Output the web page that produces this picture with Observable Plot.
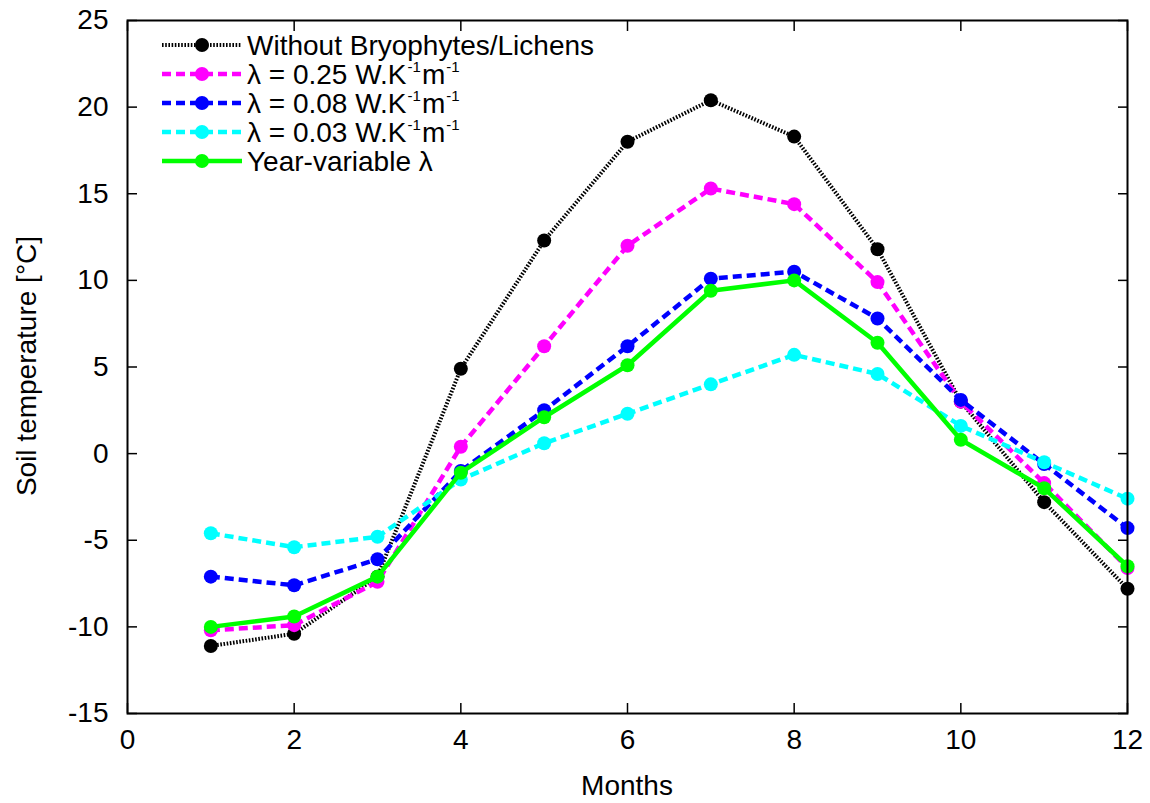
<!DOCTYPE html>
<html><head><meta charset="utf-8">
<script src="https://cdn.jsdelivr.net/npm/d3@7"></script>
<script src="https://cdn.jsdelivr.net/npm/@observablehq/plot@0.6"></script>
<style>
body{margin:0;background:#fff}
svg{font-family:"Liberation Sans",Arial,sans-serif}
</style>
</head><body><div id="chart"></div>
<script>
// ---- data ----
const months = [1,2,3,4,5,6,7,8,9,10,11,12];
const withoutBL = [-11.1,-10.4,-7.1,4.9,12.3,18.0,20.4,18.3,11.8,3.0,-2.8,-7.8];
const lambda025 = [-10.2,-9.9,-7.4,0.4,6.2,12.0,15.3,14.4,9.9,3.0,-1.7,-6.6];
const lambda008 = [-7.1,-7.6,-6.1,-1.0,2.5,6.2,10.1,10.5,7.8,3.1,-0.6,-4.3];
const lambda003 = [-4.6,-5.4,-4.8,-1.5,0.6,2.3,4.0,5.7,4.6,1.6,-0.5,-2.6];
const yearVar   = [-10.0,-9.4,-7.1,-1.1,2.1,5.1,9.4,10.0,6.4,0.8,-2.0,-6.5];
const seriesNames = ["Without Bryophytes/Lichens","λ = 0.25","λ = 0.08","λ = 0.03","Year-variable λ"];
const seriesValues = [withoutBL, lambda025, lambda008, lambda003, yearVar];
const xTicks = [0,2,4,6,8,10,12];
const yTicks = [-15,-10,-5,0,5,10,15,20,25];

// ---- styles ----
const styles = [
  {stroke:"#000000", dash:"1.6,1.6", width:4},
  {stroke:"#ff00ff", dash:"9,5", width:4.5},
  {stroke:"#0000ff", dash:"9,5", width:4.5},
  {stroke:"#00ffff", dash:"9,5", width:4.5},
  {stroke:"#00ff00", dash:null, width:4.5}
];

const rows = seriesNames.flatMap((s,i)=>seriesValues[i].map((v,j)=>({series:s, month:months[j], temp:v})));

const marks = [];
seriesNames.forEach((s,i)=>{
  const st = styles[i];
  const d = rows.filter(r=>r.series===s);
  marks.push(Plot.line(d,{x:"month",y:"temp",stroke:st.stroke,strokeWidth:st.width,strokeDasharray:st.dash,strokeLinecap:"butt",strokeLinejoin:"miter"}));
  marks.push(Plot.dot(d,{x:"month",y:"temp",r:7,fill:st.stroke,stroke:"none"}));
});

const fmt = d => String(d);
const chart = Plot.plot({
  width:1150, height:803,
  marginLeft:127, marginRight:23, marginTop:20, marginBottom:90,
  style:{fontSize:"28px", fontFamily:"'Liberation Sans',Arial,sans-serif", color:"#000", background:"#fff"},
  x:{domain:[0,12]},
  y:{domain:[-15,25]},
  marks:[
    Plot.axisX({ticks:xTicks, tickSize:-10, tickPadding:26, tickFormat:fmt, label:null, strokeWidth:1.5}),
    Plot.axisX({anchor:"top", ticks:xTicks, tickSize:-10, tickFormat:()=>"", label:null, strokeWidth:1.5}),
    Plot.axisY({ticks:yTicks, tickSize:-10, tickPadding:29, tickFormat:fmt, label:null, strokeWidth:1.5}),
    Plot.axisY({anchor:"right", ticks:yTicks, tickSize:-10, tickFormat:()=>"", label:null, strokeWidth:1.5}),
    ...marks,
    Plot.frame({stroke:"#000", strokeWidth:2})
  ]
});
document.getElementById("chart").appendChild(chart);

// ---- axis titles and legend ----
const svg = d3.select(chart);
svg.append("text").attr("x",627).attr("y",795).attr("text-anchor","middle")
  .attr("font-size",28).text("Months");
svg.append("text").attr("transform","translate(36,366) rotate(-90)").attr("text-anchor","middle")
  .attr("font-size",28).text("Soil temperature [°C]");

const lg = svg.append("g");
const legendLabels = [
  ["Without Bryophytes/Lichens"],
  ["λ = 0.25 W.K","-1","m","-1"],
  ["λ = 0.08 W.K","-1","m","-1"],
  ["λ = 0.03 W.K","-1","m","-1"],
  ["Year-variable λ"]
];
legendLabels.forEach((parts,i)=>{
  const cy = 45 + i*29;
  const st = styles[i];
  lg.append("line").attr("x1",162).attr("x2",242).attr("y1",cy).attr("y2",cy)
    .attr("stroke",st.stroke).attr("stroke-width",st.width).attr("stroke-dasharray",st.dash);
  lg.append("circle").attr("cx",202).attr("cy",cy).attr("r",7).attr("fill",st.stroke);
  const t = lg.append("text").attr("x",247).attr("y",cy+10).attr("font-size",28).attr("text-anchor","start");
  parts.forEach((p,k)=>{
    if (k%2===1) t.append("tspan").attr("font-size",15).attr("dx",1).attr("dy",-12).text(p);
    else if (k>0) t.append("tspan").attr("dx",1).attr("dy",12).text(p);
    else t.append("tspan").text(p);
  });
});
</script>
</body></html>
